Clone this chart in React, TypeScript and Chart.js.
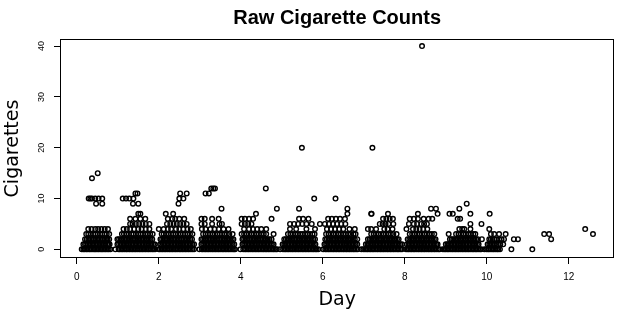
import React, { useEffect, useRef } from "react";
import { Chart, registerables } from "chart.js";

Chart.register(...registerables);

const TITLE = "Raw Cigarette Counts";
const X_LABEL = "Day";
const Y_LABEL = "Cigarettes";
const xTicks = [0, 2, 4, 6, 8, 10, 12];
const yTicks = [0, 10, 20, 30, 40];

// Day of each observation, grouped by the cigarette count recorded
const daysAt0 = [
  0.12, 0.16, 0.19, 0.23, 0.26, 0.3, 0.33, 0.37, 0.41, 0.44, 0.47, 0.51, 0.54, 0.58, 0.61, 0.64, 0.68, 0.71, 0.75, 0.78, 0.82,
  0.94, 1.02, 1.05, 1.09, 1.12, 1.16, 1.2, 1.23, 1.27, 1.3, 1.34, 1.37, 1.41, 1.44, 1.48, 1.52, 1.55, 1.59, 1.62, 1.66, 1.69, 1.73, 1.76, 1.8, 1.84, 1.87, 1.91,
  2.0, 2.03, 2.07, 2.1, 2.14, 2.17, 2.21, 2.25, 2.28, 2.32, 2.35, 2.39, 2.42, 2.46, 2.5, 2.53, 2.57, 2.6, 2.64, 2.67, 2.71, 2.74, 2.78, 2.82, 2.86,
  2.99, 3.05, 3.08, 3.12, 3.15, 3.19, 3.22, 3.26, 3.3, 3.33, 3.37, 3.4, 3.44, 3.47, 3.51, 3.55, 3.58, 3.62, 3.65, 3.69, 3.72, 3.76, 3.8, 3.83, 3.86,
  3.99, 4.06, 4.1, 4.13, 4.17, 4.2, 4.24, 4.28, 4.31, 4.35, 4.38, 4.42, 4.45, 4.49, 4.53, 4.56, 4.6, 4.63, 4.67, 4.7, 4.74, 4.78, 4.81, 4.85, 4.88,
  4.96, 5.03, 5.07, 5.1, 5.14, 5.17, 5.21, 5.25, 5.28, 5.32, 5.35, 5.39, 5.42, 5.46, 5.5, 5.53, 5.57, 5.6, 5.64, 5.67, 5.71, 5.75, 5.78, 5.82, 5.85, 5.89,
  6.01, 6.06, 6.09, 6.13, 6.16, 6.2, 6.24, 6.27, 6.31, 6.34, 6.38, 6.41, 6.45, 6.49, 6.52, 6.56, 6.59, 6.63, 6.66, 6.7, 6.74, 6.77, 6.81, 6.85, 6.94,
  6.99, 7.03, 7.07, 7.1, 7.14, 7.17, 7.21, 7.24, 7.28, 7.32, 7.35, 7.39, 7.42, 7.46, 7.49, 7.53, 7.57, 7.6, 7.64, 7.67, 7.71, 7.74, 7.78, 7.82, 7.85, 7.89, 7.93,
  8.03, 8.07, 8.1, 8.14, 8.17, 8.21, 8.24, 8.28, 8.32, 8.35, 8.39, 8.42, 8.46, 8.49, 8.53, 8.57, 8.6, 8.64, 8.67, 8.71, 8.74, 8.78, 8.82, 8.85,
  8.93, 8.97, 9.0, 9.04, 9.07, 9.11, 9.15, 9.18, 9.22, 9.25, 9.29, 9.32, 9.36, 9.4, 9.43, 9.47, 9.5, 9.54, 9.57, 9.61, 9.65, 9.68, 9.72, 9.75, 9.79, 9.83, 9.86, 9.94,
  9.99, 10.03, 10.06, 10.1, 10.14, 10.17, 10.21, 10.25, 10.28, 10.32, 10.6, 11.11,
];
const daysAt1 = [
  0.16, 0.2, 0.23, 0.27, 0.31, 0.34, 0.38, 0.41, 0.45, 0.49, 0.52, 0.56, 0.59, 0.63, 0.66, 0.7, 0.74, 0.77, 0.8,
  0.99, 1.03, 1.07, 1.1, 1.14, 1.17, 1.21, 1.25, 1.28, 1.32, 1.35, 1.39, 1.43, 1.46, 1.5, 1.53, 1.57, 1.61, 1.64, 1.68, 1.71, 1.75, 1.79, 1.82, 1.86, 1.9,
  2.03, 2.06, 2.1, 2.13, 2.17, 2.21, 2.24, 2.28, 2.31, 2.35, 2.39, 2.42, 2.46, 2.49, 2.53, 2.57, 2.6, 2.64, 2.67, 2.71, 2.75, 2.78, 2.82, 2.86,
  3.04, 3.08, 3.11, 3.15, 3.18, 3.22, 3.26, 3.29, 3.33, 3.36, 3.4, 3.44, 3.47, 3.51, 3.54, 3.58, 3.62, 3.65, 3.69, 3.72, 3.76, 3.8, 3.84,
  4.04, 4.08, 4.11, 4.15, 4.19, 4.22, 4.26, 4.29, 4.33, 4.37, 4.4, 4.44, 4.47, 4.51, 4.55, 4.58, 4.62, 4.65, 4.69, 4.73, 4.76, 4.8,
  5.02, 5.06, 5.09, 5.13, 5.16, 5.2, 5.24, 5.27, 5.31, 5.34, 5.38, 5.42, 5.45, 5.49, 5.52, 5.56, 5.6, 5.63, 5.67, 5.7, 5.74, 5.78, 5.82,
  6.04, 6.08, 6.11, 6.15, 6.18, 6.22, 6.26, 6.29, 6.33, 6.36, 6.4, 6.44, 6.47, 6.51, 6.54, 6.58, 6.62, 6.65, 6.69, 6.72, 6.76, 6.8, 6.84,
  7.05, 7.09, 7.12, 7.16, 7.2, 7.23, 7.27, 7.3, 7.34, 7.38, 7.41, 7.45, 7.48, 7.52, 7.56, 7.59, 7.63, 7.66, 7.7, 7.74, 7.77, 7.81, 7.85, 7.89, 7.93,
  8.05, 8.09, 8.12, 8.16, 8.19, 8.23, 8.27, 8.3, 8.34, 8.37, 8.41, 8.45, 8.48, 8.52, 8.55, 8.59, 8.63, 8.66, 8.7, 8.73, 8.77, 8.8,
  9.0, 9.04, 9.07, 9.11, 9.14, 9.18, 9.22, 9.25, 9.29, 9.32, 9.36, 9.4, 9.43, 9.47, 9.5, 9.54, 9.58, 9.61, 9.65, 9.68, 9.72, 9.76, 9.8,
  10.02, 10.06, 10.09, 10.13, 10.17, 10.2, 10.24, 10.28, 10.33, 10.4,
];
const daysAt2 = [
  0.2, 0.24, 0.28, 0.31, 0.35, 0.39, 0.42, 0.46, 0.5, 0.53, 0.57, 0.61, 0.64, 0.68, 0.72, 0.75, 0.79,
  0.99, 1.03, 1.07, 1.11, 1.15, 1.19, 1.22, 1.26, 1.3, 1.34, 1.38, 1.41, 1.45, 1.49, 1.53, 1.57, 1.6, 1.64, 1.68, 1.72, 1.76, 1.8, 1.84,
  2.04, 2.08, 2.12, 2.16, 2.19, 2.23, 2.27, 2.31, 2.35, 2.38, 2.42, 2.46, 2.5, 2.54, 2.57, 2.61, 2.65, 2.69, 2.73, 2.77, 2.81,
  3.04, 3.08, 3.12, 3.16, 3.2, 3.24, 3.27, 3.31, 3.35, 3.39, 3.43, 3.47, 3.5, 3.54, 3.58, 3.62, 3.66, 3.7, 3.74, 3.78, 3.82,
  4.04, 4.08, 4.12, 4.16, 4.2, 4.23, 4.27, 4.31, 4.35, 4.39, 4.43, 4.47, 4.5, 4.54, 4.58, 4.62, 4.66, 4.7, 4.75,
  5.06, 5.1, 5.14, 5.18, 5.22, 5.26, 5.3, 5.33, 5.37, 5.41, 5.45, 5.49, 5.53, 5.57, 5.61, 5.65, 5.69, 5.73, 5.77, 5.81,
  6.06, 6.1, 6.14, 6.18, 6.22, 6.26, 6.29, 6.33, 6.37, 6.41, 6.45, 6.49, 6.53, 6.57, 6.61, 6.65, 6.69, 6.73, 6.78, 6.84,
  7.1, 7.14, 7.18, 7.22, 7.26, 7.3, 7.34, 7.38, 7.41, 7.45, 7.49, 7.53, 7.57, 7.61, 7.65, 7.69, 7.73, 7.77, 7.81, 7.85,
  8.07, 8.11, 8.15, 8.19, 8.23, 8.27, 8.31, 8.35, 8.39, 8.43, 8.47, 8.51, 8.55, 8.59, 8.63, 8.67, 8.71, 8.75,
  9.1, 9.14, 9.18, 9.22, 9.26, 9.3, 9.34, 9.38, 9.42, 9.46, 9.5, 9.54, 9.58, 9.62, 9.66, 9.7, 9.74, 9.78, 9.88,
  10.06, 10.1, 10.14, 10.19, 10.24, 10.3, 10.36, 10.42, 10.66, 10.76, 11.57,
];
const daysAt3 = [
  0.23, 0.28, 0.34, 0.4, 0.45, 0.51, 0.57, 0.62, 0.68, 0.73, 0.79,
  1.1, 1.15, 1.21, 1.27, 1.33, 1.38, 1.44, 1.5, 1.56, 1.61, 1.67, 1.73, 1.79, 1.85,
  2.07, 2.12, 2.18, 2.24, 2.3, 2.35, 2.41, 2.47, 2.53, 2.59, 2.64, 2.7, 2.76, 2.82,
  3.08, 3.14, 3.2, 3.25, 3.31, 3.37, 3.43, 3.49, 3.54, 3.6, 3.66, 3.72, 3.8,
  4.02, 4.08, 4.14, 4.2, 4.26, 4.32, 4.38, 4.44, 4.5, 4.56, 4.62, 4.8,
  5.15, 5.21, 5.27, 5.33, 5.39, 5.45, 5.51, 5.57, 5.63, 5.69, 5.75, 5.8,
  6.08, 6.14, 6.2, 6.26, 6.32, 6.38, 6.44, 6.5, 6.56, 6.62, 6.68, 6.75, 6.8,
  7.18, 7.24, 7.3, 7.36, 7.42, 7.48, 7.54, 7.6, 7.66, 7.72, 7.8,
  8.12, 8.18, 8.24, 8.3, 8.36, 8.42, 8.48, 8.54, 8.6, 8.66, 8.72,
  9.07, 9.25, 9.31, 9.37, 9.43, 9.49, 9.55, 9.61, 9.67, 9.72,
  10.1, 10.18, 10.3, 10.46, 11.4, 11.52, 12.59,
];
const daysAt4 = [
  0.28, 0.36, 0.45, 0.52, 0.6, 0.68, 0.76,
  1.14, 1.22, 1.3, 1.4, 1.5, 1.58, 1.68, 1.77,
  2.0, 2.12, 2.22, 2.3, 2.42, 2.5, 2.6, 2.7, 2.78,
  3.05, 3.14, 3.26, 3.36, 3.46, 3.58, 3.7,
  4.08, 4.2, 4.3, 4.4, 4.5, 4.62,
  5.2, 5.35, 5.6, 5.81,
  6.1, 6.2, 6.3, 6.4, 6.5, 6.65, 6.78,
  7.1, 7.18, 7.3, 7.5, 7.58, 7.7,
  8.04, 8.2, 8.28, 8.36, 8.45, 8.55,
  9.33, 9.4, 9.45, 9.6,
  10.06, 12.4,
];
const daysAt5 = [
  1.3, 1.36, 1.44, 1.52, 1.6, 1.68, 1.77,
  2.2, 2.28, 2.36, 2.44, 2.52, 2.6, 2.68,
  3.04, 3.12, 3.3, 3.48, 3.54,
  4.02, 4.1, 4.18, 4.26,
  5.2, 5.3, 5.4, 5.5, 5.6, 5.73, 5.93,
  6.05, 6.15, 6.25, 6.35, 6.45, 6.55,
  7.39, 7.46, 7.53, 7.6, 7.72,
  8.1, 8.22, 8.3, 8.4, 8.47, 8.54,
  9.6, 9.87,
];
const daysAt6 = [
  1.3, 1.43, 1.55, 1.67,
  2.22, 2.33, 2.4, 2.5, 2.62,
  3.04, 3.12, 3.3, 3.46,
  4.02, 4.1, 4.2, 4.3, 4.75,
  5.42, 5.52, 5.65,
  6.13, 6.22, 6.32, 6.42, 6.54,
  7.47, 7.55, 7.63, 7.71,
  8.12, 8.22, 8.32, 8.46, 8.58, 8.67,
  9.29, 9.35,
];
const daysAt7 = [1.5, 1.55, 2.17, 2.35, 4.37, 6.6, 7.18, 7.19, 7.59, 8.32, 8.8, 9.09, 9.17, 9.6, 10.07];
const daysAt8 = [3.53, 4.88, 5.42, 6.6, 8.64, 8.76, 9.33];
const daysAt9 = [0.47, 0.62, 1.37, 1.5, 2.48, 9.51];
const daysAt10 = [0.29, 0.33, 0.37, 0.45, 0.53, 0.62, 1.12, 1.2, 1.28, 1.38, 2.5, 2.6, 5.79, 6.31];
const daysAt11 = [1.43, 1.48, 2.52, 2.68, 3.14, 3.22];
const daysAt12 = [3.28, 3.33, 3.37, 4.61];
const daysAt14 = [0.37];
const daysAt15 = [0.51];
const daysAt20 = [5.49, 7.21];
const daysAt40 = [8.42];

const countGroups: [number, number[]][] = [
  [0, daysAt0], [1, daysAt1], [2, daysAt2], [3, daysAt3], [4, daysAt4], [5, daysAt5],
  [6, daysAt6], [7, daysAt7], [8, daysAt8], [9, daysAt9], [10, daysAt10], [11, daysAt11],
  [12, daysAt12], [14, daysAt14], [15, daysAt15], [20, daysAt20], [40, daysAt40],
];

const boxPlugin = {
  id: "rBox",
  afterDatasetsDraw(chart: any) {
    const { ctx, chartArea: a } = chart;
    const l = Math.round(a.left), r = Math.round(a.right), t = Math.round(a.top), b = Math.round(a.bottom);
    ctx.save();
    ctx.strokeStyle = "#000";
    ctx.lineWidth = 1;
    ctx.strokeRect(l + 0.5, t + 0.5, r - l - 1, b - t - 1);
    ctx.restore();
  },
};

export default function App() {
  const ref = useRef<HTMLCanvasElement | null>(null);
  useEffect(() => {
    if (!ref.current) return;
    Chart.defaults.color = "#000";
    const points = countGroups.flatMap(([count, days]) => days.map((d) => ({ x: d, y: count })));
    const chart = new Chart(ref.current, {
      type: "scatter",
      data: {
        datasets: [
          {
            data: points,
            pointStyle: "circle",
            pointRadius: 2.3,
            pointBorderWidth: 1.4,
            borderColor: "#000",
            backgroundColor: "rgba(0,0,0,0)",
            pointHoverRadius: 2.3,
          },
        ],
      },
      options: {
        animation: false,
        responsive: false,
        devicePixelRatio: 1,
        layout: { padding: { left: 0, right: 1, top: 0, bottom: 0 } },
        plugins: {
          legend: { display: false },
          tooltip: { enabled: false },
          title: {
            display: true,
            fullSize: false,
            text: TITLE,
            color: "#000",
            font: { family: "'Liberation Sans', Arial, sans-serif", size: 20, weight: "bold", lineHeight: 1.2 },
            padding: { top: 6.6, bottom: 8.4 },
          },
        },
        scales: {
          x: {
            type: "linear",
            min: -0.41,
            max: 13.11,
            afterBuildTicks: (s: any) => { s.ticks = xTicks.map((v) => ({ value: v })); },
            afterFit: (s: any) => { s.height = 58; },
            grid: { drawOnChartArea: false, drawTicks: true, tickLength: 6, color: "#000", lineWidth: 1 },
            border: { display: false },
            ticks: {
              color: "#000",
              padding: 7.5,
              font: { family: "'Liberation Sans Narrow', 'Liberation Sans', Arial, sans-serif", size: 10 },
              maxRotation: 0,
              minRotation: 0,
              autoSkip: false,
            },
            title: {
              display: true,
              text: X_LABEL,
              color: "#000",
              font: { family: "'DejaVu Sans', sans-serif", size: 19, lineHeight: 1.2 },
              padding: { top: 0, bottom: 4.3 },
            },
          },
          y: {
            type: "linear",
            min: -1.7,
            max: 41.4,
            afterBuildTicks: (s: any) => { s.ticks = yTicks.map((v) => ({ value: v })); },
            afterFit: (s: any) => { s.width = 60; },
            grid: { drawOnChartArea: false, drawTicks: true, tickLength: 6, color: "#000", lineWidth: 1 },
            border: { display: false },
            ticks: {
              color: "#000",
              padding: 7.5,
              crossAlign: "center",
              minRotation: 90,
              maxRotation: 90,
              font: { family: "'Liberation Sans', Arial, sans-serif", size: 9 },
              autoSkip: false,
            },
            title: {
              display: true,
              text: Y_LABEL,
              color: "#000",
              font: { family: "'DejaVu Sans', sans-serif", size: 19, lineHeight: 1.2 },
              padding: { top: 1.4, bottom: 0 },
            },
          },
        },
      },
      plugins: [boxPlugin],
    } as any);
    return () => chart.destroy();
  }, []);
  return (
    <div style={{ position: "absolute", left: 0, top: 0, width: 618, height: 316, background: "#fff" }}>
      <canvas ref={ref} width={618} height={316} />
    </div>
  );
}
